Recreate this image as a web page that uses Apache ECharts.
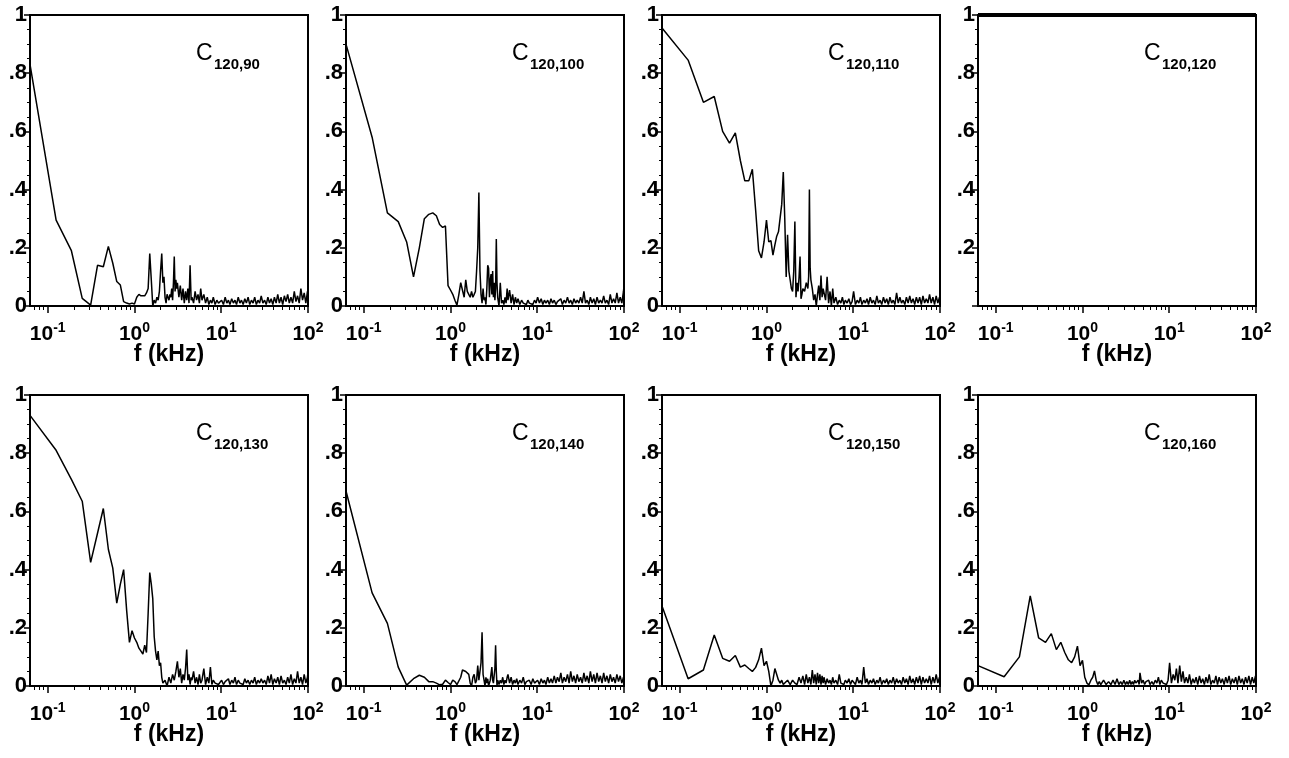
<!DOCTYPE html>
<html>
<head>
<meta charset="utf-8">
<script src="https://cdn.jsdelivr.net/npm/echarts@6/dist/echarts.min.js"></script>
<style>
html,body{margin:0;padding:0;background:#fff;}
#chart{width:1289px;height:758px;}
</style>
</head>
<body>
<div id="chart"></div>
<script>
// ---------- data ----------
const F_MIN = 0.0625, F_MAX = 100;
const X_MAJOR = [0.1, 1, 10, 100];
const X_MINOR = [0.07,0.08,0.09,0.2,0.3,0.4,0.5,0.6,0.7,0.8,0.9,2,3,4,5,6,7,8,9,20,30,40,50,60,70,80,90];
const PANEL_SUBS = ['120,90','120,100','120,110','120,120','120,130','120,140','120,150','120,160'];

// shared frequency grid (kHz) of the high-frequency noise tail
const TAIL_F = [4.6,4.8,5.0,5.2,5.4,5.6,5.8,6.0,
  6.3,6.6,6.9,7.2,7.5,7.8,8.1,8.5,8.9,9.3,9.7,
  10.1,10.6,11.1,11.6,12.1,12.6,13.2,13.8,14.4,15.0,
  15.7,16.4,17.1,17.9,18.7,19.5,20.4,21.3,22.3,23.3,
  24.3,25.4,26.5,27.7,28.9,30.2,31.6,33.0,34.5,36.0,
  37.6,39.3,41.0,42.9,44.8,46.8,48.9,51.1,53.4,55.8,
  58.3,60.9,63.6,66.5,69.5,72.6,75.8,79.2,82.8,86.5,
  90.4,94.4,98.6,100];

// C120,90
const HEAD_90 = [[0.0625,0.83],[0.125,0.295],[0.1875,0.19],[0.25,0.026],[0.3125,0.003],[0.375,0.14],[0.4375,0.135],[0.5,0.205],[0.5625,0.147],[0.625,0.084],[0.6875,0.072],[0.75,0.015],[0.8125,0.01],[0.875,0.007],[0.9375,0.01],[1.0,0.007],[1.0625,0.03],[1.125,0.04],[1.1875,0.035],[1.25,0.04],[1.3125,0.035],[1.375,0.045],[1.4375,0.06],[1.5,0.18],[1.5625,0.09],[1.625,0.0],[1.6875,0.02],[1.75,0.01],[1.8125,0.03],[1.875,0.02],[1.9375,0.05],[2.0,0.12],[2.0625,0.18],[2.125,0.08],[2.1875,0.1],[2.25,0.03],[2.3125,0.01],[2.375,0.04],[2.5,0.02],[2.5625,0.04],[2.625,0.03],[2.6875,0.06],[2.75,0.02],[2.8125,0.08],[2.875,0.17],[2.9375,0.05],[3.0,0.09],[3.0625,0.06],[3.125,0.08],[3.25,0.03],[3.375,0.07],[3.5,0.02],[3.625,0.06],[3.75,0.01],[3.875,0.05],[4.0,0.02],[4.125,0.06],[4.25,0.01],[4.375,0.14],[4.5,0.02]];
const TAIL_90 = [0.03,0.01,0.05,0.02,0.04,0.01,0.06,0.02,
  0.04,0.01,0.03,0.005,0.02,0.01,0.03,0.005,0.02,0.01,0.015,
  0.02,0.005,0.03,0.01,0.02,0.005,0.025,0.01,0.02,0.005,
  0.03,0.01,0.02,0.005,0.025,0.01,0.03,0.005,0.02,0.01,
  0.03,0.005,0.02,0.01,0.035,0.01,0.02,0.005,0.03,0.01,
  0.025,0.005,0.03,0.01,0.04,0.01,0.03,0.005,0.035,0.015,
  0.04,0.01,0.03,0.01,0.05,0.015,0.035,0.01,0.06,0.02,
  0.045,0.01,0.05,0.03];

// C120,100
const HEAD_100 = [[0.0625,0.90],[0.125,0.58],[0.1875,0.32],[0.25,0.29],[0.3125,0.22],[0.375,0.10],[0.4375,0.20],[0.5,0.30],[0.5625,0.315],[0.625,0.32],[0.6875,0.31],[0.75,0.28],[0.8125,0.27],[0.875,0.275],[0.9375,0.07],[1.0,0.055],[1.0625,0.04],[1.125,0.02],[1.1875,0.003],[1.25,0.04],[1.3125,0.08],[1.375,0.08],[1.4375,0.03],[1.5,0.09],[1.5625,0.05],[1.625,0.04],[1.6875,0.03],[1.75,0.05],[1.8125,0.03],[1.875,0.04],[1.9375,0.05],[2.0,0.12],[2.0625,0.2],[2.125,0.39],[2.1875,0.12],[2.25,0.04],[2.3125,0.01],[2.375,0.06],[2.4375,0.02],[2.5,0.03],[2.5625,0.005],[2.625,0.06],[2.6875,0.14],[2.75,0.13],[2.8125,0.03],[2.875,0.09],[2.9375,0.11],[3.0,0.04],[3.0625,0.12],[3.125,0.03],[3.1875,0.08],[3.25,0.02],[3.3125,0.06],[3.375,0.23],[3.4375,0.08],[3.5,0.03],[3.625,0.0],[3.75,0.08],[3.875,0.01],[4.0,0.02],[4.125,0.005],[4.25,0.03],[4.375,0.01],[4.5,0.06]];
const TAIL_100 = [0.02,0.055,0.01,0.04,0.005,0.03,0.01,0.025,
  0.005,0.02,0.01,0.015,0.005,0.02,0.01,0.015,0.005,0.02,0.01,
  0.03,0.01,0.025,0.005,0.02,0.01,0.02,0.005,0.025,0.01,
  0.02,0.005,0.015,0.01,0.025,0.005,0.02,0.01,0.03,0.01,
  0.02,0.005,0.025,0.01,0.02,0.01,0.03,0.01,0.05,0.01,
  0.02,0.005,0.03,0.01,0.025,0.005,0.03,0.01,0.02,0.01,
  0.035,0.01,0.02,0.005,0.04,0.01,0.025,0.01,0.045,0.01,
  0.03,0.01,0.05,0.07];

// C120,110
const HEAD_110 = [[0.0625,0.955],[0.125,0.845],[0.1875,0.70],[0.25,0.72],[0.3125,0.60],[0.375,0.56],[0.4375,0.595],[0.5,0.50],[0.5625,0.43],[0.625,0.43],[0.6875,0.47],[0.75,0.33],[0.8125,0.19],[0.875,0.165],[0.9375,0.22],[1.0,0.295],[1.0625,0.22],[1.125,0.225],[1.1875,0.175],[1.25,0.21],[1.3125,0.24],[1.375,0.255],[1.4375,0.26],[1.5,0.35],[1.5625,0.46],[1.625,0.30],[1.6875,0.10],[1.75,0.245],[1.8125,0.12],[1.875,0.09],[1.9375,0.06],[2.0,0.05],[2.0625,0.12],[2.125,0.29],[2.1875,0.03],[2.25,0.08],[2.3125,0.05],[2.375,0.1],[2.4375,0.17],[2.5,0.025],[2.5625,0.04],[2.625,0.06],[2.75,0.05],[2.875,0.08],[3.0,0.06],[3.0625,0.1],[3.125,0.40],[3.1875,0.13],[3.25,0.09],[3.375,0.06],[3.5,0.02],[3.625,0.04],[3.75,0.0],[3.875,0.04],[4.0,0.07],[4.125,0.02],[4.25,0.105],[4.375,0.03],[4.5,0.06]];
const TAIL_110 = [0.06,0.02,0.1,0.01,0.05,0.0,0.06,0.01,
  0.03,0.005,0.02,0.01,0.03,0.005,0.02,0.01,0.025,0.005,0.015,
  0.05,0.005,0.02,0.01,0.03,0.005,0.02,0.01,0.025,0.005,
  0.03,0.01,0.02,0.005,0.035,0.01,0.02,0.005,0.03,0.01,
  0.025,0.005,0.03,0.01,0.02,0.005,0.045,0.01,0.03,0.01,
  0.02,0.005,0.03,0.01,0.035,0.01,0.025,0.005,0.03,0.01,
  0.03,0.005,0.035,0.01,0.025,0.01,0.04,0.01,0.03,0.005,
  0.035,0.01,0.03,0.02];

// C120,120 (autocorrelation: constant 1)
const HEAD_120 = [[0.0625,1],[100,1]];
const TAIL_120 = [];

// C120,130
const HEAD_130 = [[0.0625,0.93],[0.125,0.81],[0.1875,0.71],[0.25,0.635],[0.3125,0.425],[0.375,0.525],[0.4375,0.61],[0.5,0.47],[0.5625,0.405],[0.625,0.285],[0.6875,0.35],[0.75,0.40],[0.8125,0.26],[0.875,0.15],[0.9375,0.19],[1.0,0.165],[1.0625,0.15],[1.125,0.13],[1.1875,0.12],[1.25,0.11],[1.3125,0.14],[1.375,0.115],[1.4375,0.25],[1.5,0.39],[1.5625,0.35],[1.625,0.30],[1.6875,0.17],[1.75,0.12],[1.8125,0.09],[1.875,0.12],[1.9375,0.07],[2.0,0.08],[2.0625,0.03],[2.125,0.01],[2.25,0.02],[2.375,0.0],[2.5,0.03],[2.625,0.01],[2.75,0.04],[2.875,0.02],[3.0,0.05],[3.125,0.085],[3.25,0.03],[3.375,0.06],[3.5,0.01],[3.625,0.04],[3.75,0.02],[3.875,0.06],[4.0,0.125],[4.125,0.02],[4.25,0.04],[4.375,0.005],[4.5,0.03]];
const TAIL_130 = [0.02,0.05,0.01,0.03,0.005,0.04,0.01,0.02,
  0.06,0.005,0.03,0.01,0.065,0.005,0.02,0.01,0.015,0.005,0.01,
  0.02,0.005,0.015,0.01,0.025,0.005,0.02,0.01,0.03,0.005,
  0.02,0.01,0.015,0.005,0.025,0.01,0.02,0.005,0.02,0.01,
  0.03,0.005,0.02,0.01,0.025,0.01,0.02,0.005,0.035,0.01,
  0.04,0.005,0.025,0.01,0.03,0.005,0.035,0.01,0.02,0.005,
  0.03,0.01,0.04,0.005,0.025,0.01,0.05,0.01,0.03,0.005,
  0.04,0.01,0.03,0.05];

// C120,140
const HEAD_140 = [[0.0625,0.67],[0.125,0.32],[0.1875,0.215],[0.25,0.065],[0.3125,0.003],[0.375,0.025],[0.4375,0.037],[0.5,0.03],[0.5625,0.015],[0.625,0.015],[0.6875,0.01],[0.75,0.004],[0.8125,0.006],[0.875,0.02],[0.9375,0.012],[1.0,0.005],[1.0625,0.02],[1.125,0.015],[1.1875,0.005],[1.25,0.0],[1.3125,0.03],[1.375,0.055],[1.4375,0.06],[1.5,0.05],[1.5625,0.055],[1.625,0.04],[1.6875,0.01],[1.75,0.0],[1.8125,0.03],[1.875,0.04],[1.9375,0.01],[2.0,0.02],[2.0625,0.07],[2.125,0.02],[2.1875,0.05],[2.25,0.08],[2.3125,0.185],[2.375,0.04],[2.4375,0.02],[2.5,0.0],[2.5625,0.03],[2.625,0.01],[2.6875,0.025],[2.75,0.0],[2.875,0.02],[3.0,0.065],[3.0625,0.02],[3.125,0.01],[3.25,0.06],[3.3125,0.14],[3.375,0.05],[3.4375,0.0],[3.5,0.02],[3.625,0.005],[3.75,0.02],[3.875,0.01],[4.0,0.03],[4.125,0.005],[4.25,0.02],[4.375,0.01],[4.5,0.03]];
const TAIL_140 = [0.04,0.01,0.03,0.005,0.02,0.01,0.025,0.005,
  0.02,0.01,0.03,0.005,0.015,0.01,0.02,0.005,0.025,0.01,0.015,
  0.02,0.005,0.025,0.01,0.02,0.005,0.03,0.01,0.025,0.01,
  0.035,0.01,0.03,0.015,0.045,0.01,0.03,0.015,0.04,0.01,
  0.05,0.015,0.035,0.01,0.04,0.015,0.03,0.01,0.045,0.015,
  0.035,0.01,0.05,0.015,0.04,0.01,0.045,0.015,0.035,0.01,
  0.045,0.015,0.035,0.01,0.04,0.015,0.03,0.01,0.04,0.015,
  0.035,0.01,0.03,0.02];

// C120,150
const HEAD_150 = [[0.0625,0.275],[0.125,0.025],[0.1875,0.055],[0.25,0.175],[0.3125,0.095],[0.375,0.085],[0.4375,0.105],[0.5,0.065],[0.5625,0.072],[0.625,0.06],[0.6875,0.05],[0.75,0.064],[0.8125,0.09],[0.875,0.13],[0.9375,0.07],[1.0,0.085],[1.0625,0.05],[1.125,0.0],[1.1875,0.02],[1.25,0.06],[1.3125,0.065],[1.375,0.02],[1.4375,0.01],[1.5,0.02],[1.5625,0.005],[1.625,0.01],[1.75,0.02],[1.875,0.005],[2.0,0.02],[2.125,0.01],[2.25,0.005],[2.375,0.03],[2.5,0.01],[2.625,0.035],[2.75,0.005],[2.875,0.04],[3.0,0.01],[3.125,0.03],[3.25,0.005],[3.375,0.055],[3.5,0.01],[3.625,0.04],[3.75,0.005],[3.875,0.045],[4.0,0.01],[4.125,0.04],[4.25,0.005],[4.375,0.035],[4.5,0.01]];
const TAIL_150 = [0.03,0.005,0.025,0.01,0.02,0.005,0.03,0.01,
  0.02,0.005,0.04,0.01,0.015,0.005,0.02,0.01,0.025,0.005,0.02,
  0.015,0.005,0.03,0.01,0.02,0.005,0.065,0.01,0.025,0.005,
  0.02,0.01,0.025,0.005,0.02,0.01,0.03,0.005,0.02,0.01,
  0.025,0.005,0.02,0.01,0.03,0.005,0.025,0.01,0.02,0.005,
  0.03,0.01,0.025,0.005,0.035,0.01,0.025,0.005,0.03,0.01,
  0.035,0.005,0.03,0.01,0.025,0.01,0.035,0.005,0.03,0.01,
  0.04,0.01,0.03,0.02];

// C120,160
const HEAD_160 = [[0.0625,0.07],[0.125,0.032],[0.1875,0.10],[0.25,0.31],[0.3125,0.165],[0.375,0.15],[0.4375,0.18],[0.5,0.125],[0.5625,0.15],[0.625,0.115],[0.6875,0.09],[0.75,0.08],[0.8125,0.10],[0.875,0.137],[0.9375,0.07],[1.0,0.088],[1.0625,0.03],[1.125,0.01],[1.1875,0.004],[1.25,0.02],[1.3125,0.03],[1.375,0.052],[1.4375,0.02],[1.5,0.005],[1.5625,0.015],[1.625,0.005],[1.75,0.02],[1.875,0.005],[2.0,0.015],[2.125,0.005],[2.25,0.02],[2.375,0.005],[2.5,0.025],[2.625,0.005],[2.75,0.015],[2.875,0.005],[3.0,0.02],[3.125,0.005],[3.25,0.015],[3.375,0.005],[3.5,0.02],[3.625,0.005],[3.75,0.015],[3.875,0.005],[4.0,0.02],[4.125,0.01],[4.25,0.005],[4.375,0.02],[4.5,0.005]];
const TAIL_160 = [0.045,0.01,0.02,0.005,0.015,0.01,0.02,0.005,
  0.015,0.005,0.02,0.01,0.03,0.005,0.02,0.01,0.015,0.005,0.02,
  0.08,0.01,0.04,0.02,0.06,0.01,0.07,0.015,0.05,0.01,
  0.03,0.01,0.04,0.005,0.025,0.01,0.03,0.005,0.035,0.01,
  0.025,0.005,0.03,0.01,0.04,0.005,0.02,0.01,0.035,0.005,
  0.03,0.01,0.025,0.005,0.03,0.01,0.035,0.005,0.025,0.01,
  0.03,0.005,0.035,0.01,0.025,0.005,0.03,0.01,0.035,0.005,
  0.03,0.01,0.035,0.02];

const PANELS = [
  [HEAD_90, TAIL_90], [HEAD_100, TAIL_100], [HEAD_110, TAIL_110], [HEAD_120, TAIL_120],
  [HEAD_130, TAIL_130], [HEAD_140, TAIL_140], [HEAD_150, TAIL_150], [HEAD_160, TAIL_160]
];

// ---------- layout / options ----------
const FONT = '"Liberation Sans", Arial, Helvetica, sans-serif';
const LEFTS = [30, 346, 662, 978];
const TOPS = [15, 395];
const W = 278, H = 291;

const grids = [], xAxes = [], yAxes = [], series = [], graphics = [];
PANELS.forEach((p, i) => {
  const r = Math.floor(i / 4), c = i % 4;
  const gl = LEFTS[c], gt = TOPS[r];
  grids.push({left: gl, top: gt, width: W, height: H, show: true,
    borderColor: '#000', borderWidth: 2, backgroundColor: 'rgba(0,0,0,0)'});
  xAxes.push({
    type: 'log', logBase: 10, gridIndex: i, min: F_MIN, max: F_MAX, position: 'bottom',
    axisLine: {show: true, onZero: false, lineStyle: {color: '#000', width: 2}},
    axisTick: {show: true, inside: false, customValues: X_MAJOR, length: 7, lineStyle: {color: '#000', width: 1.5}},
    minorTick: {show: false},
    axisLabel: {
      show: true, customValues: X_MAJOR, margin: 15,
      formatter: v => '{b|10}{s|' + Math.round(Math.log10(v)) + '}',
      rich: {
        b: {fontFamily: FONT, fontSize: 21, fontWeight: 'bold', color: '#000', lineHeight: 24, verticalAlign: 'bottom'},
        s: {fontFamily: FONT, fontSize: 14, fontWeight: 'bold', color: '#000', lineHeight: 14, verticalAlign: 'top'}
      }
    },
    splitLine: {show: false},
    name: 'f (kHz)', nameLocation: 'middle', nameGap: 37, nameMoveOverlap: false,
    nameTextStyle: {fontFamily: FONT, fontSize: 23, fontWeight: 'bold', color: '#000'}
  });
  xAxes.push({
    type: 'log', logBase: 10, gridIndex: i, min: F_MIN, max: F_MAX, position: 'bottom',
    axisLine: {show: false, onZero: false},
    axisTick: {show: true, inside: false, customValues: X_MINOR, length: 4, lineStyle: {color: '#000', width: 1}},
    axisLabel: {show: false},
    splitLine: {show: false}
  });
  yAxes.push({
    type: 'value', gridIndex: i, min: 0, max: 1, interval: 0.2,
    axisLine: {show: true, onZero: false, lineStyle: {color: '#000', width: 2}},
    axisTick: {show: true, length: 6, lineStyle: {color: '#000', width: 1.5}},
    minorTick: {show: true, splitNumber: 4, length: 3, lineStyle: {color: '#000', width: 1}},
    axisLabel: {
      margin: 3, fontFamily: FONT, fontSize: 22, fontWeight: 'bold', color: '#000',
      showMinLabel: i !== 3,
      formatter: v => v === 0 ? '0' : (v >= 1 ? '1' : '.' + Math.round(v * 10))
    },
    splitLine: {show: false}, minorSplitLine: {show: false}
  });
  const data = p[0].slice();
  const tail = p[1];
  for (let k = 0; k < tail.length && k < TAIL_F.length; k++) data.push([TAIL_F[k], tail[k]]);
  series.push({
    type: 'line', xAxisIndex: 2 * i, yAxisIndex: i, data: data,
    showSymbol: false, symbol: 'none', smooth: false,
    lineStyle: {color: '#000', width: i === 3 ? 4 : 1.5},
    clip: true, silent: true
  });
  graphics.push({type: 'text', left: gl + 166, top: gt + 27,
    style: {text: 'C', font: '23px ' + FONT, fill: '#000'}});
  graphics.push({type: 'text', left: gl + 184, top: gt + 42,
    style: {text: PANEL_SUBS[i], font: 'bold 15px ' + FONT, fill: '#000'}});
});

const chart = echarts.init(document.getElementById('chart'), null, {renderer: 'canvas'});
chart.setOption({
  backgroundColor: '#fff',
  animation: false,
  grid: grids, xAxis: xAxes, yAxis: yAxes, series: series, graphic: graphics
});
</script>
</body>
</html>
